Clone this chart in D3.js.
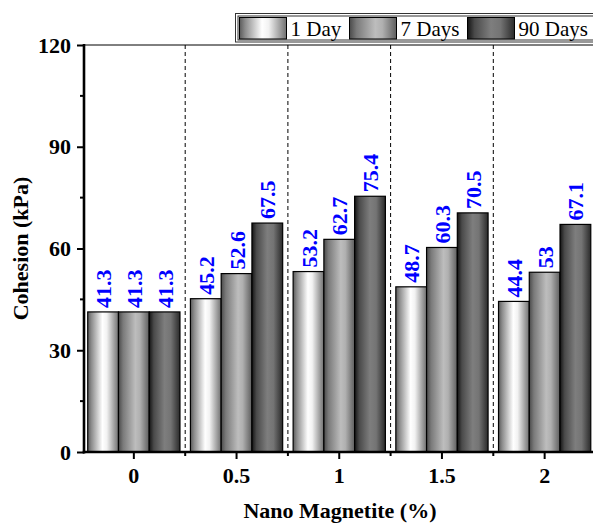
<!DOCTYPE html>
<html>
<head>
<meta charset="utf-8">
<script src="https://cdn.jsdelivr.net/npm/d3@7/dist/d3.min.js"></script>
<style>
  html, body { margin: 0; padding: 0; background: #fff; }
  svg { display: block; }
  svg text { font-family: "Liberation Serif", "Times New Roman", serif; }
  svg text.heavy { font-weight: bold; }
</style>
</head>
<body>
<svg id="chart" width="593" height="523"></svg>
<script>
// Cohesion of soil treated with nano magnetite, by curing time
const categories = ["0", "0.5", "1", "1.5", "2"];
const series = ["1 Day", "7 Days", "90 Days"];
const day1 = [41.3, 45.2, 53.2, 48.7, 44.4];
const day7 = [41.3, 52.6, 62.7, 60.3, 53];
const day90 = [41.3, 67.5, 75.4, 70.5, 67.1];
const yTicks = [0, 30, 60, 90, 120];
const yMinorTicks = [15, 45, 75, 105];

const values = [day1, day7, day90];

const svg = d3.select("#chart");
const plotLeft = 84, plotTop = 45, plotBottom = 452;

const x = d3.scaleBand().domain(categories).range([82.5, 596]).padding(0);
const x1 = d3.scaleBand().domain(series).range([0, x.bandwidth()])
  .paddingInner(0).paddingOuter(0.17);
const y = d3.scaleLinear().domain([0, 120]).range([plotBottom, plotTop]);

function heavy(sel, color) {
  return sel.attr("class", "heavy").attr("fill", color);
}

// Horizontal shading gradients for each series
const defs = svg.append("defs");
const shades = [
  [["0%", "#5a5a5a"], ["12%", "#8c8c8c"], ["48%", "#ffffff"], ["62%", "#f2f2f2"], ["100%", "#707070"]],
  [["0%", "#4a4a4a"], ["15%", "#7a7a7a"], ["55%", "#bdbdbd"], ["70%", "#b0b0b0"], ["100%", "#5e5e5e"]],
  [["0%", "#141414"], ["15%", "#4a4a4a"], ["50%", "#7e7e7e"], ["70%", "#747474"], ["100%", "#2a2a2a"]]
];
shades.forEach((stops, i) => {
  const g = defs.append("linearGradient").attr("id", "shade" + i)
    .attr("x1", "0%").attr("x2", "100%").attr("y1", "0%").attr("y2", "0%");
  stops.forEach(s => g.append("stop").attr("offset", s[0]).attr("stop-color", s[1]));
});

// Dashed group separators
const seps = categories.slice(1).map(c => x(c));
svg.append("g").selectAll("line").data(seps).join("line")
  .attr("x1", d => d).attr("x2", d => d)
  .attr("y1", plotTop).attr("y2", plotBottom)
  .attr("stroke", "#000").attr("stroke-width", 1)
  .attr("stroke-dasharray", "4,3");

// Bars
const groups = svg.append("g").selectAll("g").data(categories).join("g")
  .attr("transform", d => `translate(${x(d)},0)`);

groups.each(function(cat, ci) {
  const g = d3.select(this);
  series.forEach((s, si) => {
    const v = values[si][ci];
    g.append("rect")
      .attr("x", x1(s)).attr("width", x1.bandwidth())
      .attr("y", y(v)).attr("height", y(0) - y(v))
      .attr("fill", `url(#shade${si})`)
      .attr("stroke", "#000").attr("stroke-width", 1.2);
    const cx = x1(s) + x1.bandwidth() / 2;
    heavy(g.append("text"), "#0000ff")
      .attr("transform", `translate(${cx + 8},${y(v) - 4}) rotate(-90)`)
      .attr("text-anchor", "start")
      .attr("font-size", 22)
      .text(v);
  });
});

// Top frame line
svg.append("line").attr("x1", plotLeft).attr("x2", 596).attr("y1", plotTop).attr("y2", plotTop)
  .attr("stroke", "#000").attr("stroke-width", 1);

// Y axis
const yAxis = svg.append("g").attr("transform", `translate(${plotLeft},0)`)
  .call(d3.axisLeft(y).tickValues(yTicks).tickSize(7).tickPadding(6).tickFormat(d3.format("d")));
yAxis.attr("font-family", null);
yAxis.select(".domain").remove();
yAxis.selectAll(".tick line").attr("stroke-width", 2);
heavy(yAxis.selectAll(".tick text"), "#000").attr("font-size", 22);
yAxis.append("g").selectAll("line").data(yMinorTicks).join("line")
  .attr("x1", -4).attr("x2", 0).attr("y1", d => y(d)).attr("y2", d => y(d))
  .attr("stroke", "#000").attr("stroke-width", 2);
yAxis.append("line").attr("x1", 0).attr("x2", 0).attr("y1", plotTop - 1).attr("y2", plotBottom + 1.5)
  .attr("stroke", "#000").attr("stroke-width", 2.6);

// X axis
const xAxis = svg.append("g").attr("transform", `translate(0,${plotBottom})`)
  .call(d3.axisBottom(x).tickSize(7).tickPadding(8));
xAxis.attr("font-family", null);
xAxis.select(".domain").remove();
xAxis.selectAll(".tick line").attr("stroke-width", 2);
heavy(xAxis.selectAll(".tick text"), "#000").attr("font-size", 22);
xAxis.append("g").selectAll("line").data(seps).join("line")
  .attr("x1", d => d).attr("x2", d => d).attr("y1", 0).attr("y2", 4)
  .attr("stroke", "#000").attr("stroke-width", 2);
xAxis.append("line").attr("x1", plotLeft - 1.3).attr("x2", 596).attr("y1", 0).attr("y2", 0)
  .attr("stroke", "#000").attr("stroke-width", 2.6);

// Axis titles
heavy(svg.append("text"), "#000").attr("x", 340).attr("y", 518).attr("text-anchor", "middle")
  .attr("font-size", 22).text("Nano Magnetite (%)");
heavy(svg.append("text"), "#000")
  .attr("transform", `translate(28,${(plotTop + plotBottom) / 2}) rotate(-90)`)
  .attr("text-anchor", "middle").attr("font-size", 22)
  .text("Cohesion (kPa)");

// Legend
const legend = svg.append("g");
legend.append("rect").attr("x", 235.5).attr("y", 13.5).attr("width", 362).attr("height", 28.5)
  .attr("fill", "#fff").attr("stroke", "#333").attr("stroke-width", 1);
legend.append("rect").attr("x", 238).attr("y", 16).attr("width", 362).attr("height", 24)
  .attr("fill", "none").attr("stroke", "#333").attr("stroke-width", 1);
const legendX = [239.5, 349.5, 467.5];
series.forEach((s, i) => {
  legend.append("rect").attr("x", legendX[i]).attr("y", 17.5).attr("width", 47).attr("height", 21.5)
    .attr("fill", `url(#shade${i})`).attr("stroke", "#000").attr("stroke-width", 1);
  legend.append("text").attr("x", legendX[i] + 51).attr("y", 35.5)
    .attr("font-size", 21).attr("fill", "#000").text(s);
});
</script>
</body>
</html>
